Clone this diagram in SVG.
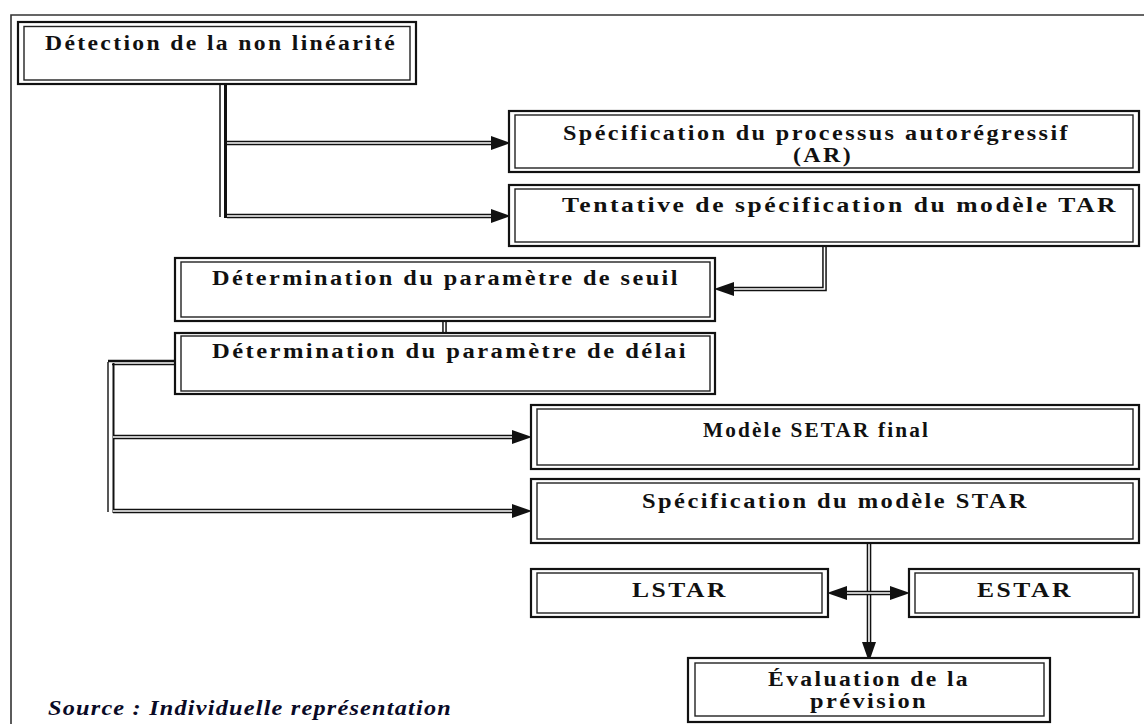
<svg xmlns="http://www.w3.org/2000/svg" width="1144" height="724" viewBox="0 0 1144 724">
<style>
.o{fill:#fff;stroke:#111;stroke-width:2.2}
.i{fill:none;stroke:#222;stroke-width:1.4}
.t{font-family:"Liberation Serif","Times New Roman",serif;font-weight:bold;font-size:20px;letter-spacing:2px;fill:#111}
.src{font-family:"Liberation Serif","Times New Roman",serif;font-weight:bold;font-style:italic;font-size:20px;letter-spacing:1px;fill:#0a0a26}
.blk{fill:none;stroke:#111;stroke-width:4.6}
.wht{fill:none;stroke:#fff;stroke-width:1.6}
.ln{fill:none;stroke:#111}
</style>
<defs>
<marker id="ar" viewBox="0 0 20 14" refX="0" refY="7" markerWidth="20" markerHeight="14" markerUnits="userSpaceOnUse" orient="auto-start-reverse">
<path d="M0,0 L20,7 L0,14 z" fill="#111"/>
</marker>
</defs>
<rect width="1144" height="724" fill="#fff"/>
<polyline points="11,724 11,15 1144,15" fill="none" stroke="#333" stroke-width="1.6"/>

<g id="connectors">
<line class="ln" x1="220" y1="84" x2="220" y2="217" stroke-width="1.5"/>
<line class="ln" x1="225.5" y1="84" x2="225.5" y2="218" stroke-width="3"/>
<path class="blk" d="M227,143 H491" marker-end="url(#ar)"/>
<path class="wht" d="M227,143 H491"/>
<path class="blk" d="M227,216 H491" marker-end="url(#ar)"/>
<path class="wht" d="M227,216 H491"/>
<path class="blk" d="M824.5,246 V289 H734" marker-end="url(#ar)"/>
<path class="wht" d="M824.5,246 V289 H734"/>
<path class="blk" d="M444.5,321 V333"/>
<path class="wht" d="M444.5,321 V333"/>
<line class="ln" x1="108" y1="361" x2="175" y2="361" stroke-width="2.6"/>
<line class="ln" x1="112" y1="364.5" x2="175" y2="364.5" stroke="#777" stroke-width="1.5"/>
<line class="ln" x1="108" y1="362" x2="108" y2="512" stroke-width="1.4"/>
<line class="ln" x1="113.5" y1="363" x2="113.5" y2="513" stroke-width="2"/>
<path class="blk" d="M113,437 H512" marker-end="url(#ar)"/>
<path class="wht" d="M113,437 H512"/>
<path class="blk" d="M113,511 H512" marker-end="url(#ar)"/>
<path class="wht" d="M113,511 H512"/>
<path class="blk" d="M869,543 V642" marker-end="url(#ar)" stroke-width="6.5"/>
<path class="wht" d="M869,543 V642" stroke-width="1.8"/>
<path class="blk" d="M847,593 H890" marker-start="url(#ar)" marker-end="url(#ar)"/>
<path class="wht" d="M847,593 H890"/>
</g>

<g id="n1">
<rect class="o" x="18" y="22" width="398" height="62"/>
<rect class="i" x="24" y="26.5" width="386" height="53.5"/>
<text class="t" x="45" y="50" textLength="352" lengthAdjust="spacingAndGlyphs">Détection de la non linéarité</text>
</g>
<g id="n2">
<rect class="o" x="509" y="111" width="630" height="61"/>
<rect class="i" x="515" y="115" width="618" height="53"/>
<text class="t" x="563" y="140" textLength="507" lengthAdjust="spacingAndGlyphs">Spécification du processus autorégressif</text>
<text class="t" x="793" y="162" textLength="60" lengthAdjust="spacingAndGlyphs">(AR)</text>
</g>
<g id="n3">
<rect class="o" x="509" y="185" width="630" height="61"/>
<rect class="i" x="515" y="189" width="618" height="53"/>
<text class="t" x="562" y="212" textLength="556" lengthAdjust="spacingAndGlyphs">Tentative de spécification du modèle TAR</text>
</g>
<g id="n4">
<rect class="o" x="175" y="258" width="540" height="63"/>
<rect class="i" x="181" y="262" width="529" height="55"/>
<text class="t" x="212" y="285" textLength="468" lengthAdjust="spacingAndGlyphs">Détermination du paramètre de seuil</text>
</g>
<g id="n5">
<rect class="o" x="175" y="333" width="540" height="61"/>
<rect class="i" x="181" y="336" width="529" height="55"/>
<text class="t" x="212" y="358" textLength="476" lengthAdjust="spacingAndGlyphs">Détermination du paramètre de délai</text>
</g>
<g id="n6">
<rect class="o" x="531" y="405" width="608" height="64"/>
<rect class="i" x="537" y="409" width="596" height="56"/>
<text class="t" x="703" y="437" textLength="227" lengthAdjust="spacingAndGlyphs">Modèle SETAR final</text>
</g>
<g id="n7">
<rect class="o" x="531" y="479" width="608" height="64"/>
<rect class="i" x="537" y="483" width="596" height="56"/>
<text class="t" x="642" y="508" textLength="387" lengthAdjust="spacingAndGlyphs">Spécification du modèle STAR</text>
</g>
<g id="n8">
<rect class="o" x="531" y="569" width="297" height="48"/>
<rect class="i" x="537" y="573" width="285" height="40"/>
<text class="t" x="632" y="597" textLength="96" lengthAdjust="spacingAndGlyphs">LSTAR</text>
</g>
<g id="n9">
<rect class="o" x="909" y="569" width="230" height="48"/>
<rect class="i" x="915" y="573" width="218" height="40"/>
<text class="t" x="977" y="597" textLength="96" lengthAdjust="spacingAndGlyphs">ESTAR</text>
</g>
<g id="n10">
<rect class="o" x="688" y="658" width="362" height="64" stroke-width="2.8"/>
<rect class="i" x="695" y="663" width="349" height="53"/>
<text class="t" x="768" y="686" textLength="202" lengthAdjust="spacingAndGlyphs">Évaluation de la</text>
<text class="t" x="810" y="708" textLength="118" lengthAdjust="spacingAndGlyphs">prévision</text>
</g>
<text class="src" x="48" y="715" textLength="404" lengthAdjust="spacingAndGlyphs">Source : Individuelle représentation</text>
</svg>
